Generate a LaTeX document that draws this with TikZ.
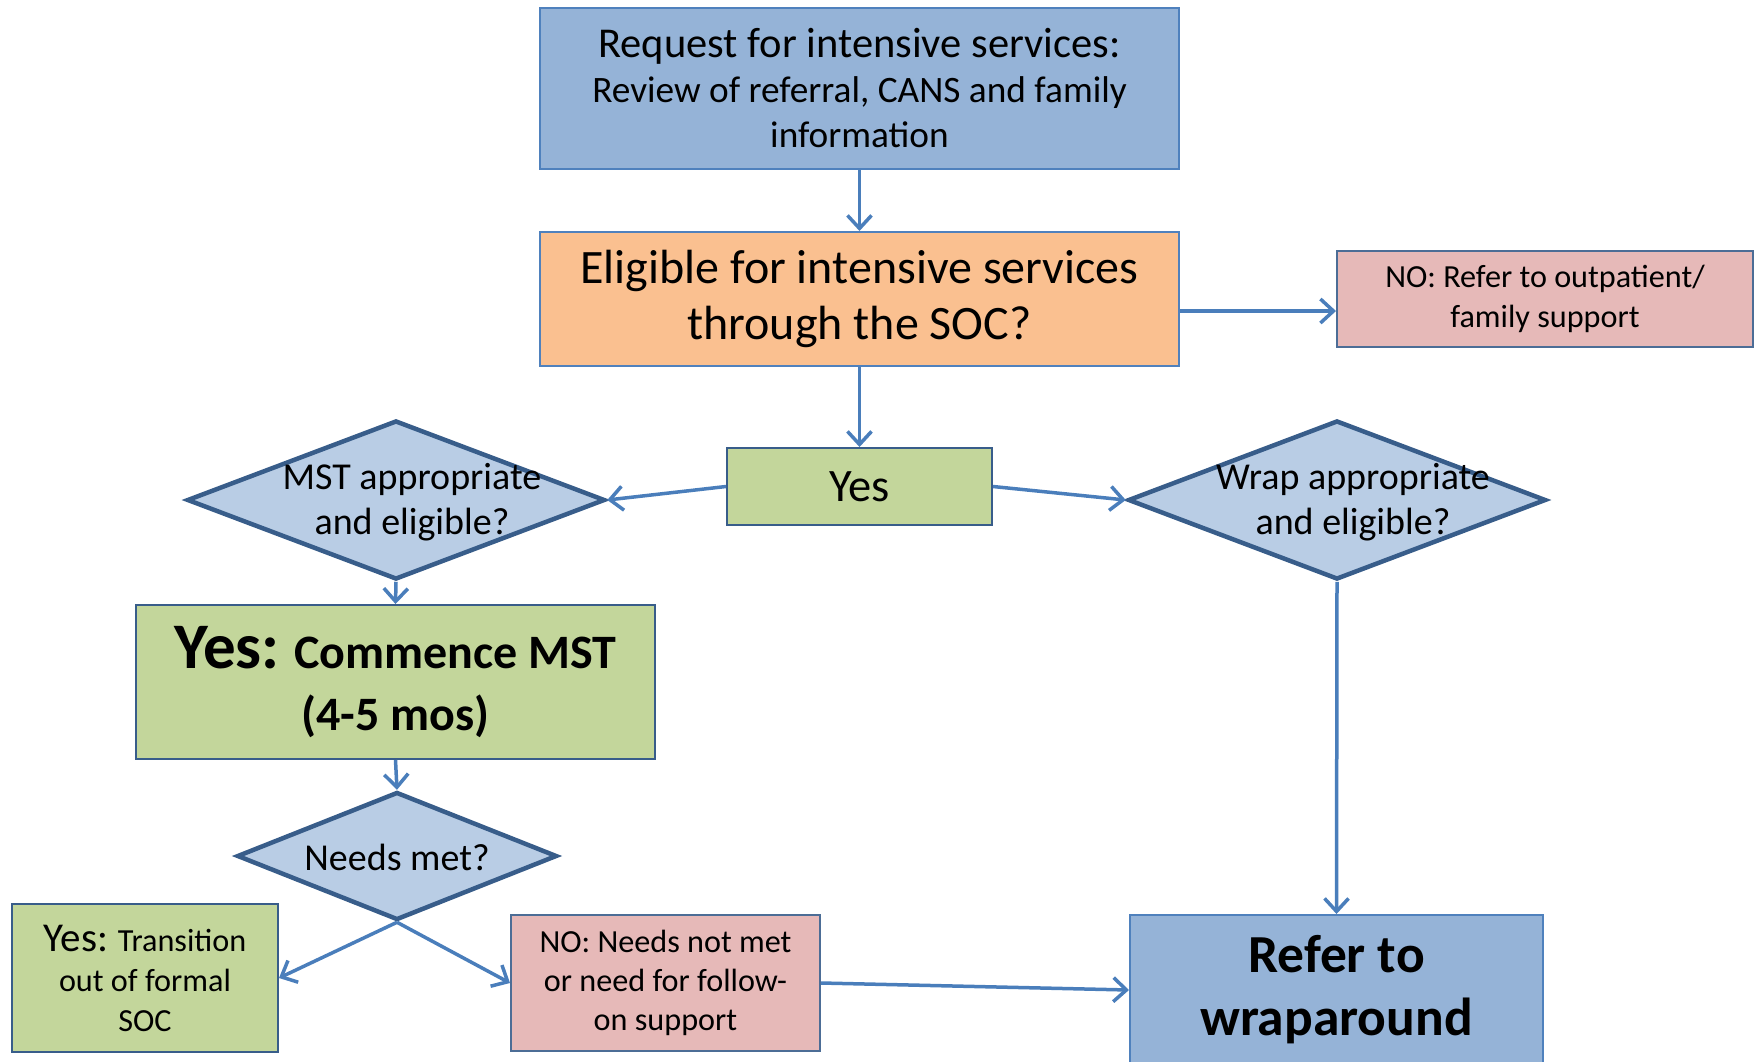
\documentclass[tikz,border=0pt]{standalone}
\usepackage{fontspec}
\setmainfont{Carlito}
\usetikzlibrary{shapes.geometric,arrows.meta}

\definecolor{boxblue}{HTML}{95B3D7}
\definecolor{edgeblue}{HTML}{4F81BD}
\definecolor{darkedge}{HTML}{385D8A}
\definecolor{boxorange}{HTML}{FAC090}
\definecolor{boxpink}{HTML}{E6B9B8}
\definecolor{boxgreen}{HTML}{C3D69B}
\definecolor{diafill}{HTML}{B9CDE5}
\definecolor{linkblue}{HTML}{4A7EBB}

\tikzset{
  plain box/.style={draw=edgeblue, line width=2pt, inner sep=0pt, align=center},
  blue box/.style={plain box, fill=boxblue},
  orange box/.style={plain box, fill=boxorange},
  pink box/.style={plain box, fill=boxpink, draw=darkedge!90},
  green box/.style={plain box, fill=boxgreen, draw=darkedge},
  decision/.style={diamond, draw=darkedge, fill=diafill, line width=4.5pt, inner sep=0pt},
  decision text/.style={align=center, font=\fontsize{38}{45}\selectfont},
  link/.style={draw=linkblue, line width=3.5pt, -{Straight Barb[length=13pt,width=24pt]}}
}

\begin{document}
\begin{tikzpicture}[x=1pt,y=-1pt]
    \useasboundingbox (0,0) rectangle (1756,1061);
    % top row
    \node[blue box, minimum width=639pt, minimum height=161pt,
        font=\fontsize{37.3}{45}\selectfont] (request) at (859.5,88.5)
        {{\fontsize{42.5}{46}\selectfont Request for intensive services:}\\Review of referral, CANS and family\\information};
    \node[orange box, minimum width=639pt, minimum height=134pt,
        font=\fontsize{48}{56}\selectfont] (eligible) at (859.5,299)
        {Eligible for intensive services\\through the SOC?};
    \node[pink box, minimum width=416pt, minimum height=96pt,
        font=\fontsize{32.2}{40}\selectfont] (outpatient) at (1545,299)
        {NO: Refer to outpatient/\\family support};
    \node[green box, minimum width=265pt, minimum height=77pt,
        font=\fontsize{46.5}{50}\selectfont] (yes) at (859.5,486.5) {Yes};
    % the two checks
    \node[decision, minimum width=418pt, minimum height=159pt,
        label={[decision text, xshift=16pt, yshift=-2pt]center:MST appropriate\\and eligible?}] (mst) at (396,500) {};
    \node[decision, minimum width=418pt, minimum height=159pt,
        label={[decision text, xshift=16pt, yshift=-2pt]center:Wrap appropriate\\and eligible?}] (wrap) at (1337,500) {};
    % MST branch
    \node[green box, minimum width=519pt, minimum height=154pt,
        font=\fontsize{48}{62}\selectfont\bfseries] (commence) at (395.5,682)
        {{\fontsize{65}{62}\selectfont Yes:} Commence MST\\(4-5 mos)};
    \node[decision, minimum width=320pt, minimum height=128pt,
        label={[decision text, yshift=-1pt]center:Needs met?}] (needs) at (397,856) {};
    \node[green box, minimum width=266pt, minimum height=148pt,
        font=\fontsize{32.2}{40}\selectfont] (transition) at (145,978)
        {{\fontsize{41}{40}\selectfont Yes:} Transition\\out of formal\\SOC};
    \node[pink box, minimum width=309pt, minimum height=136pt,
        font=\fontsize{32.2}{39}\selectfont] (followon) at (665.5,983)
        {NO: Needs not met\\or need for follow-\\on support};
    \node[blue box, minimum width=413pt, minimum height=150pt,
        font=\fontsize{53.5}{63}\selectfont\bfseries] (refer) at (1336.5,990)
        {Refer to\\wraparound};

    \draw[link] (request) -- (eligible);
    \draw[link] ([yshift=-12pt]eligible.east) -- ([yshift=-12pt]outpatient.west);
    \draw[link] (eligible) -- (yes);
    \draw[link] (yes.west) -- (mst.east);
    \draw[link] (yes.east) -- (wrap.west);
    \draw[link] (mst.south) -- (commence.north);
    \draw[link] (commence.south) -- (needs.north);
    \draw[link] (needs.south) -- (transition.east);
    \draw[link] (needs.south) -- (followon.west);
    \draw[link] (followon.east) -- (refer.west);
    \draw[link] (wrap.south) -- (refer.north);
\end{tikzpicture}
\end{document}
